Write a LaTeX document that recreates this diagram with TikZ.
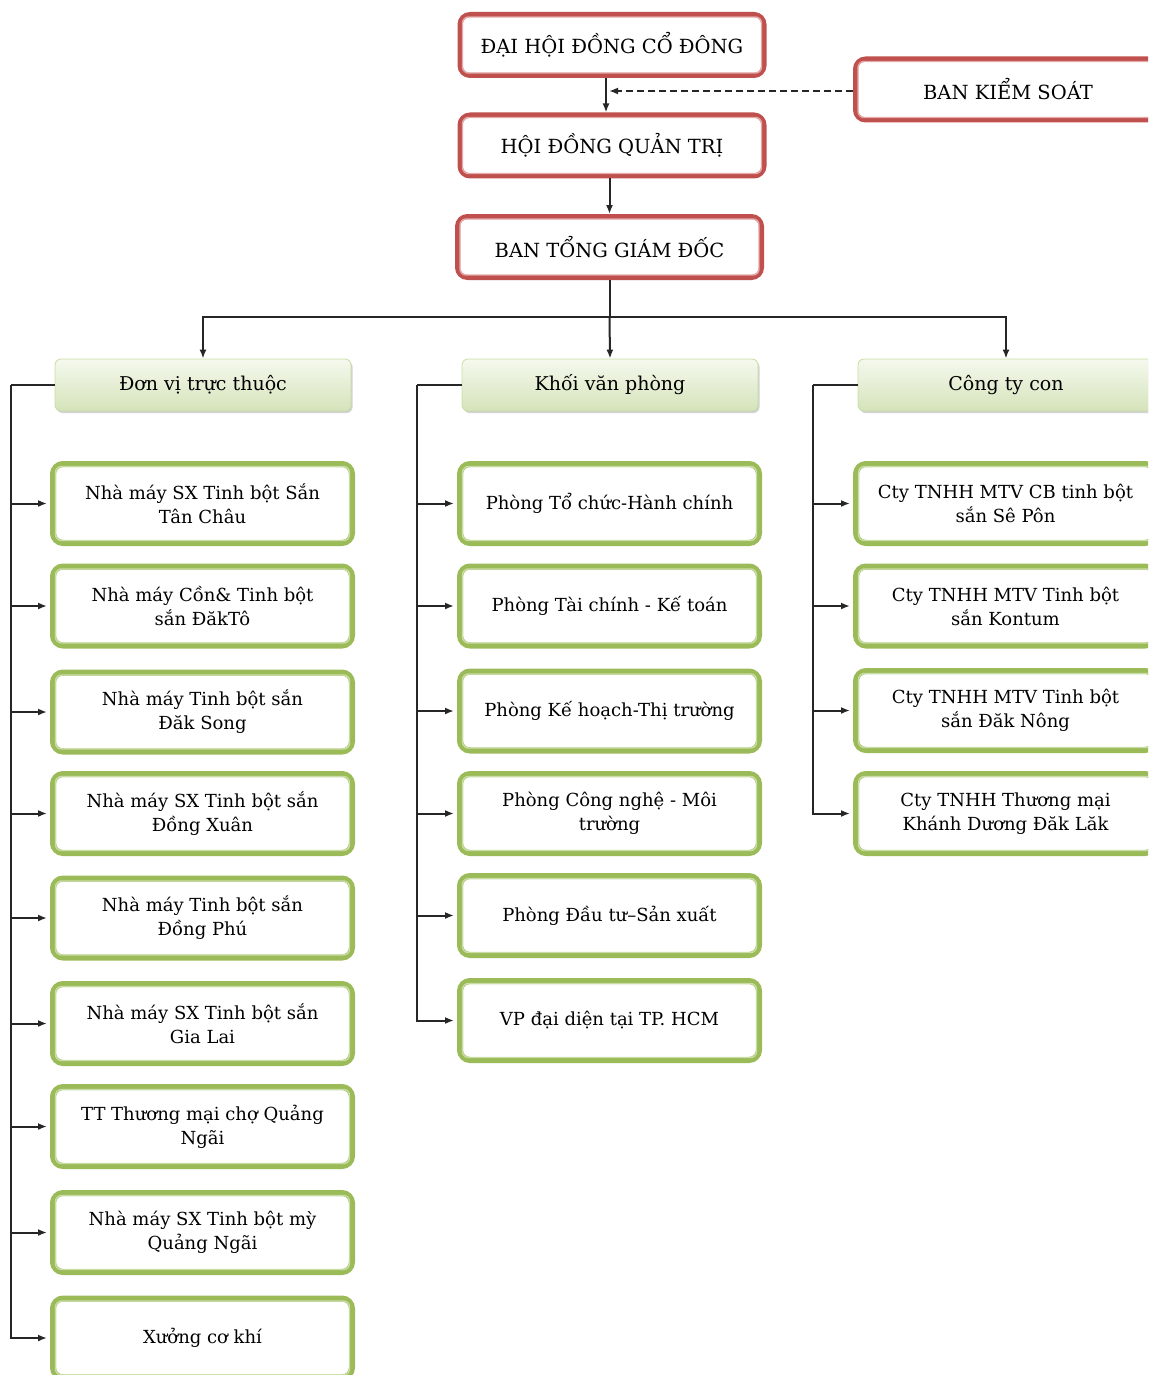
\documentclass[tikz,border=0pt]{standalone}
\usepackage{fontspec}
\setmainfont{DejaVu Serif}
\usetikzlibrary{shadows, arrows.meta}
\definecolor{boxred}{HTML}{C0504D}
\definecolor{boxredlight}{HTML}{E2A9A7}
\definecolor{boxgreen}{HTML}{9BBB59}
\definecolor{boxgreenlight}{HTML}{C9DCA3}
\definecolor{titletop}{HTML}{F5F9EE}
\definecolor{titlebottom}{HTML}{D5E3BA}
\begin{document}
\begin{tikzpicture}[
    x=1pt, y=-1pt,
    font=\fontsize{18}{24}\selectfont,
    red_box/.style={rectangle, rounded corners=10pt, draw=boxred, line width=5pt, fill=white, align=center, minimum width=304pt, minimum height=61pt, font=\fontsize{19.5}{24}\selectfont},
    title_box/.style={rectangle, rounded corners=6pt, draw=boxgreenlight, line width=0.8pt, top color=titletop, bottom color=titlebottom, minimum width=296pt, minimum height=52pt, font=\fontsize{19}{24}\selectfont, drop shadow={shadow xshift=1.5pt, shadow yshift=-2pt, opacity=0.3, fill=black!60}},
    unit_box/.style={rectangle, rounded corners=10pt, draw=boxgreen, line width=6pt, fill=white, align=center, minimum width=299pt, minimum height=79pt},
    inner_line/.style={draw=#1, line width=1.4pt, rounded corners=6pt},
    link/.style={draw=black!85, -{Latex[length=9pt,width=7pt]}, line width=2pt}
]
\useasboundingbox (0,0) rectangle (1148,1375);
\clip (0,0) rectangle (1148,1375);

% top of the chart
\node[red_box] (dhdcd) at (612,45) {ĐẠI HỘI ĐỒNG CỔ ĐÔNG};
\node[red_box] (hdqt) at (612,145.5) {HỘI ĐỒNG QUẢN TRỊ};
\node[red_box] (btgd) at (609.5,247) {BAN TỔNG GIÁM ĐỐC};
\node[red_box, minimum width=305pt] (bks) at (1008,89.5) {BAN KIỂM SOÁT};

% three groups
\node[title_box] (dvtt) at (203,385) {Đơn vị trực thuộc};
\node[title_box] (kvp) at (610,385) {Khối văn phòng};
\node[title_box] (ctc) at (1006,385) {Công ty con};

% Don vi truc thuoc
\node[unit_box] (dv1) at (202.5,503.5) {Nhà máy SX Tinh bột Sắn\\Tân Châu};
\node[unit_box] (dv2) at (202.5,606) {Nhà máy Cồn\& Tinh bột\\sắn ĐăkTô};
\node[unit_box] (dv3) at (202.5,712) {Nhà máy Tinh bột sắn\\Đăk Song};
\node[unit_box] (dv4) at (202.5,813.5) {Nhà máy SX Tinh bột sắn\\Đồng Xuân};
\node[unit_box] (dv5) at (202.5,918) {Nhà máy Tinh bột sắn\\Đồng Phú};
\node[unit_box] (dv6) at (202.5,1023.5) {Nhà máy SX Tinh bột sắn\\Gia Lai};
\node[unit_box] (dv7) at (202.5,1126.5) {TT Thương mại chợ Quảng\\Ngãi};
\node[unit_box] (dv8) at (202.5,1232.5) {Nhà máy SX Tinh bột mỳ\\Quảng Ngãi};
\node[unit_box] (dv9) at (202.5,1338) {Xưởng cơ khí};

% Khoi van phong
\node[unit_box] (vp1) at (609.5,503.5) {Phòng Tổ chức-Hành chính};
\node[unit_box] (vp2) at (609.5,606) {Phòng Tài chính - Kế toán};
\node[unit_box] (vp3) at (609.5,711) {Phòng Kế hoạch-Thị trường};
\node[unit_box] (vp4) at (609.5,813.5) {Phòng Công nghệ - Môi\\trường};
\node[unit_box] (vp5) at (609.5,915.5) {Phòng Đầu tư–Sản xuất};
\node[unit_box] (vp6) at (609.5,1020.5) {VP đại diện tại TP. HCM};

% Cong ty con
\node[unit_box] (ct1) at (1005.5,503.5) {Cty TNHH MTV CB tinh bột\\sắn Sê Pôn};
\node[unit_box] (ct2) at (1005.5,606) {Cty TNHH MTV Tinh bột\\sắn Kontum};
\node[unit_box] (ct3) at (1005.5,710.5) {Cty TNHH MTV Tinh bột\\sắn Đăk Nông};
\node[unit_box] (ct4) at (1005.5,813.5) {Cty TNHH Thương mại\\Khánh Dương Đăk Lăk};

% thin inner borders
\foreach \n in {dhdcd,hdqt,btgd,bks}
    \draw[inner_line=boxredlight] ([xshift=5pt,yshift=-5pt]\n.north west) rectangle ([xshift=-5pt,yshift=5pt]\n.south east);
\foreach \n in {dv1,dv2,dv3,dv4,dv5,dv6,dv7,dv8,dv9,vp1,vp2,vp3,vp4,vp5,vp6,ct1,ct2,ct3,ct4}
    \draw[inner_line=boxgreenlight] ([xshift=5.5pt,yshift=-5.5pt]\n.north west) rectangle ([xshift=-5.5pt,yshift=5.5pt]\n.south east);

\coordinate (split) at (609.5,317);
\coordinate (dvtt_bus) at (11,385);
\coordinate (kvp_bus) at (417,385);
\coordinate (ctc_bus) at (813,385);

% connectors
\draw[link] ([xshift=-6pt]dhdcd.south) -- ([xshift=-6pt]hdqt.north);
\draw[link, dash pattern=on 7pt off 4pt] ([yshift=-1.5pt]bks.west) -- ([xshift=-3pt,yshift=-1.5pt]bks.west -| dhdcd.south);
\draw[link] (hdqt.south -| btgd.north) -- (btgd.north);
\draw[draw=black!85, line width=2pt] (btgd.south) -- (split);
\draw[link] (split) -| (dvtt.north);
\draw[link] (split) -- (kvp.north);
\draw[link] (split) -| (ctc.north);

\draw[draw=black!85, line width=2pt] (dvtt.west) -- (dvtt_bus);
\draw[link, shorten >=3pt] (dvtt_bus) |- (dv1.west);
\draw[link, shorten >=3pt] (dvtt_bus) |- (dv2.west);
\draw[link, shorten >=3pt] (dvtt_bus) |- (dv3.west);
\draw[link, shorten >=3pt] (dvtt_bus) |- (dv4.west);
\draw[link, shorten >=3pt] (dvtt_bus) |- (dv5.west);
\draw[link, shorten >=3pt] (dvtt_bus) |- (dv6.west);
\draw[link, shorten >=3pt] (dvtt_bus) |- (dv7.west);
\draw[link, shorten >=3pt] (dvtt_bus) |- (dv8.west);
\draw[link, shorten >=3pt] (dvtt_bus) |- (dv9.west);

\draw[draw=black!85, line width=2pt] (kvp.west) -- (kvp_bus);
\draw[link, shorten >=3pt] (kvp_bus) |- (vp1.west);
\draw[link, shorten >=3pt] (kvp_bus) |- (vp2.west);
\draw[link, shorten >=3pt] (kvp_bus) |- (vp3.west);
\draw[link, shorten >=3pt] (kvp_bus) |- (vp4.west);
\draw[link, shorten >=3pt] (kvp_bus) |- (vp5.west);
\draw[link, shorten >=3pt] (kvp_bus) |- (vp6.west);

\draw[draw=black!85, line width=2pt] (ctc.west) -- (ctc_bus);
\draw[link, shorten >=3pt] (ctc_bus) |- (ct1.west);
\draw[link, shorten >=3pt] (ctc_bus) |- (ct2.west);
\draw[link, shorten >=3pt] (ctc_bus) |- (ct3.west);
\draw[link, shorten >=3pt] (ctc_bus) |- (ct4.west);
\end{tikzpicture}
\end{document}
